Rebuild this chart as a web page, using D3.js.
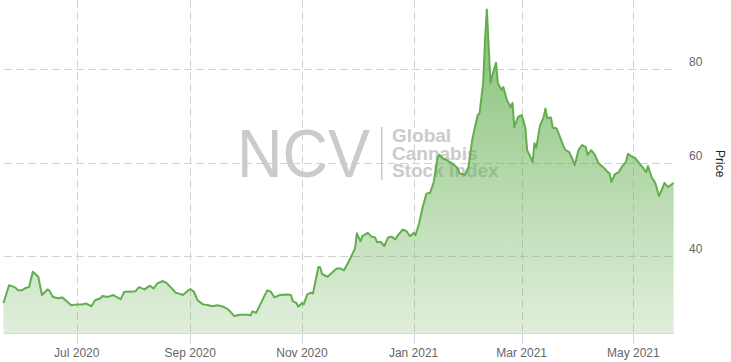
<!DOCTYPE html>
<html>
<head>
<meta charset="utf-8">
<script src="https://cdn.jsdelivr.net/npm/d3@7"></script>
<style>
  body { margin: 0; background: #fff; }
  svg { display: block; font-family: "Liberation Sans", Arial, sans-serif; }
</style>
</head>
<body>
<script>
// price series
const dates = [
  "2020-05-22","2020-05-25","2020-05-28","2020-05-30","2020-06-01","2020-06-03","2020-06-05","2020-06-07",
  "2020-06-10","2020-06-12","2020-06-15","2020-06-16","2020-06-18","2020-06-21","2020-06-23","2020-06-26",
  "2020-06-28","2020-07-01","2020-07-04","2020-07-06","2020-07-07","2020-07-09","2020-07-11","2020-07-14",
  "2020-07-15","2020-07-18","2020-07-21","2020-07-25","2020-07-27","2020-07-30","2020-08-02","2020-08-04",
  "2020-08-07","2020-08-10","2020-08-12","2020-08-14","2020-08-17","2020-08-19","2020-08-22","2020-08-24",
  "2020-08-26","2020-08-28","2020-08-30","2020-09-01","2020-09-03","2020-09-05","2020-09-08","2020-09-11",
  "2020-09-13","2020-09-16","2020-09-19","2020-09-21","2020-09-23","2020-09-25","2020-09-28","2020-10-02",
  "2020-10-04","2020-10-05","2020-10-07","2020-10-09","2020-10-13","2020-10-15","2020-10-17","2020-10-20",
  "2020-10-24","2020-10-26","2020-10-27","2020-10-29","2020-10-30","2020-11-01","2020-11-02","2020-11-04",
  "2020-11-06","2020-11-07","2020-11-10","2020-11-11","2020-11-12","2020-11-15","2020-11-18","2020-11-20",
  "2020-11-22","2020-11-24","2020-11-27","2020-11-30","2020-12-01","2020-12-03","2020-12-04","2020-12-07",
  "2020-12-09","2020-12-11","2020-12-12","2020-12-14","2020-12-16","2020-12-18","2020-12-20","2020-12-22",
  "2020-12-23","2020-12-26","2020-12-28","2020-12-30","2021-01-01","2021-01-02","2021-01-04","2021-01-06",
  "2021-01-08","2021-01-10","2021-01-12","2021-01-13","2021-01-14","2021-01-15","2021-01-17","2021-01-19",
  "2021-01-22","2021-01-25","2021-01-26","2021-01-29","2021-01-31","2021-02-02","2021-02-04","2021-02-05",
  "2021-02-06","2021-02-08","2021-02-09","2021-02-10","2021-02-12","2021-02-13","2021-02-15","2021-02-16",
  "2021-02-18","2021-02-19","2021-02-21","2021-02-23","2021-02-24","2021-02-25","2021-02-27","2021-03-01",
  "2021-03-03","2021-03-04","2021-03-07","2021-03-08","2021-03-09","2021-03-11","2021-03-13","2021-03-14",
  "2021-03-15","2021-03-17","2021-03-18","2021-03-20","2021-03-22","2021-03-24","2021-03-25","2021-03-27",
  "2021-03-29","2021-03-30","2021-04-01","2021-04-03","2021-04-05","2021-04-06","2021-04-08","2021-04-10",
  "2021-04-12","2021-04-15","2021-04-17","2021-04-18","2021-04-19","2021-04-21","2021-04-23","2021-04-25",
  "2021-04-27","2021-04-28","2021-04-30","2021-05-02","2021-05-05","2021-05-06","2021-05-08","2021-05-09",
  "2021-05-11","2021-05-13","2021-05-15","2021-05-17","2021-05-18","2021-05-20","2021-05-22","2021-05-23"
];
const prices = [
  30.0, 33.8, 33.4, 32.7, 32.7, 33.2, 33.4, 36.7,
  35.6, 31.7, 32.9, 32.7, 31.3, 31.0, 31.2, 30.2,
  29.5, 29.7, 29.7, 29.9, 29.7, 29.3, 30.6, 31.0,
  31.5, 31.3, 31.7, 30.8, 32.4, 32.4, 32.5, 33.4,
  32.9, 33.7, 33.1, 34.2, 34.7, 34.3, 33.1, 32.2,
  32.0, 31.7, 32.4, 33.0, 32.4, 30.6, 29.7, 29.5,
  29.3, 29.5, 29.2, 28.8, 28.1, 27.2, 27.5, 27.5,
  27.4, 28.2, 27.9, 29.5, 32.7, 32.4, 31.2, 31.7,
  31.8, 31.7, 30.4, 30.0, 29.2, 30.0, 29.7, 31.9,
  32.2, 32.0, 37.7, 37.6, 36.2, 35.6, 36.7, 37.4,
  37.4, 37.0, 39.2, 41.7, 44.9, 43.2, 44.3, 45.0,
  44.2, 44.0, 43.0, 43.1, 42.2, 44.0, 44.2, 43.6,
  44.3, 45.7, 45.4, 44.3, 45.0, 44.5, 47.0, 50.6,
  53.4, 53.6, 55.9, 58.4, 61.0, 61.7, 61.0, 60.6,
  59.9, 58.9, 57.8, 57.4, 59.1, 64.9, 68.5, 70.2,
  70.6, 77.1, 86.3, 92.8, 77.1, 78.8, 81.4, 77.1,
  75.6, 76.2, 73.4, 71.9, 72.8, 67.6, 69.8, 70.2,
  67.6, 62.7, 60.2, 64.2, 63.2, 67.9, 69.8, 71.6,
  69.6, 69.7, 67.5, 67.4, 65.5, 63.4, 62.7, 62.3,
  60.6, 59.5, 62.7, 63.8, 63.4, 61.7, 62.7, 61.7,
  59.9, 58.9, 58.0, 57.8, 55.9, 57.6, 58.0, 59.3,
  60.2, 61.9, 61.4, 61.0, 59.5, 59.1, 58.0, 59.3,
  56.9, 55.7, 52.9, 54.6, 55.7, 54.8, 55.4, 55.7
];
const yTicks = [40, 60, 80];
const yRange = [23.47, 94.84];
const yTitle = "Price";
const watermarkBig = "NCV";
const watermarkLines = ["Global", "Cannabis", "Stock Index"];

const W = 731, H = 362;
const plotLeft = 4, plotRight = 676, plotTop = 0, plotBottom = 333.5;

const parse = d3.utcParse("%Y-%m-%d");
const data = dates.map((d, i) => ({ date: parse(d), value: prices[i] }));

const x = d3.scaleUtc()
  .domain(d3.extent(data, d => d.date))
  .range([3.5, 673.6]);
const y = d3.scaleLinear().domain(yRange).range([plotBottom, plotTop]);

const svg = d3.select("body").append("svg")
  .attr("width", W)
  .attr("height", H);

const defs = svg.append("defs");
const grad = defs.append("linearGradient")
  .attr("id", "fillGrad")
  .attr("gradientUnits", "userSpaceOnUse")
  .attr("x1", 0).attr("y1", plotTop)
  .attr("x2", 0).attr("y2", plotBottom);
grad.append("stop").attr("offset", 0).attr("stop-color", "#66b052").attr("stop-opacity", 0.82);
grad.append("stop").attr("offset", 1).attr("stop-color", "#66b052").attr("stop-opacity", 0.2);

// grid
const monthTicks = x.ticks(d3.utcMonth.every(2));
svg.append("g")
  .selectAll("line")
  .data(yTicks)
  .join("line")
  .attr("x1", plotLeft).attr("x2", plotRight)
  .attr("y1", d => Math.round(y(d)) + 0.5)
  .attr("y2", d => Math.round(y(d)) + 0.5)
  .attr("stroke", "#d2d2d2")
  .attr("stroke-dasharray", "8,4");

svg.append("g")
  .selectAll("line")
  .data(monthTicks)
  .join("line")
  .attr("x1", d => Math.round(x(d)) + 0.5)
  .attr("x2", d => Math.round(x(d)) + 0.5)
  .attr("y1", plotTop).attr("y2", plotBottom)
  .attr("stroke", "#d2d2d2")
  .attr("stroke-dasharray", "8,4");

// watermark (sits behind the series)
const wm = svg.append("g").attr("fill", "#cbcbcb");
wm.append("text")
  .attr("x", 237).attr("y", 177)
  .attr("textLength", 133)
  .attr("lengthAdjust", "spacingAndGlyphs")
  .style("font-size", "69px")
  .text(watermarkBig);
wm.append("rect")
  .attr("x", 381).attr("y", 127)
  .attr("width", 1.5).attr("height", 53);
wm.selectAll("text.line")
  .data(watermarkLines)
  .join("text")
  .attr("class", "line")
  .attr("x", 392)
  .attr("y", (d, i) => 142 + i * 17.5)
  .style("font-size", "19px")
  .style("font-weight", "bold")
  .text(d => d);

// series
const area = d3.area()
  .x(d => x(d.date))
  .y0(plotBottom)
  .y1(d => y(d.value));
const line = d3.line()
  .x(d => x(d.date))
  .y(d => y(d.value));

svg.append("path")
  .datum(data)
  .attr("d", area)
  .attr("fill", "url(#fillGrad)");

svg.append("path")
  .datum(data)
  .attr("d", line)
  .attr("fill", "none")
  .attr("stroke", "#62ae4e")
  .attr("stroke-width", 2)
  .attr("stroke-linejoin", "round");

// x axis
const xAxis = svg.append("g");
xAxis.append("line")
  .attr("x1", plotLeft).attr("x2", 674)
  .attr("y1", plotBottom).attr("y2", plotBottom)
  .attr("stroke", "#ccd6eb");
xAxis.selectAll("line.tick")
  .data(monthTicks)
  .join("line")
  .attr("class", "tick")
  .attr("x1", d => Math.round(x(d)) + 0.5)
  .attr("x2", d => Math.round(x(d)) + 0.5)
  .attr("y1", plotBottom).attr("y2", plotBottom + 10)
  .attr("stroke", "#ccd6eb");
xAxis.selectAll("text")
  .data(monthTicks)
  .join("text")
  .attr("x", d => x(d))
  .attr("y", 357)
  .attr("text-anchor", "middle")
  .attr("fill", "#666666")
  .style("font-size", "12px")
  .text(d3.utcFormat("%b %Y"));

// y axis on the right
const yAxis = svg.append("g");
yAxis.selectAll("text")
  .data(yTicks)
  .join("text")
  .attr("x", 689)
  .attr("y", d => y(d) - 3)
  .attr("fill", "#666666")
  .style("font-size", "12px")
  .text(d => d);

yAxis.append("text")
  .attr("transform", `translate(716,${(plotTop + plotBottom) / 2 - 3}) rotate(90)`)
  .attr("text-anchor", "middle")
  .attr("fill", "#222222")
  .style("font-size", "12px")
  .text(yTitle);
</script>
</body>
</html>
